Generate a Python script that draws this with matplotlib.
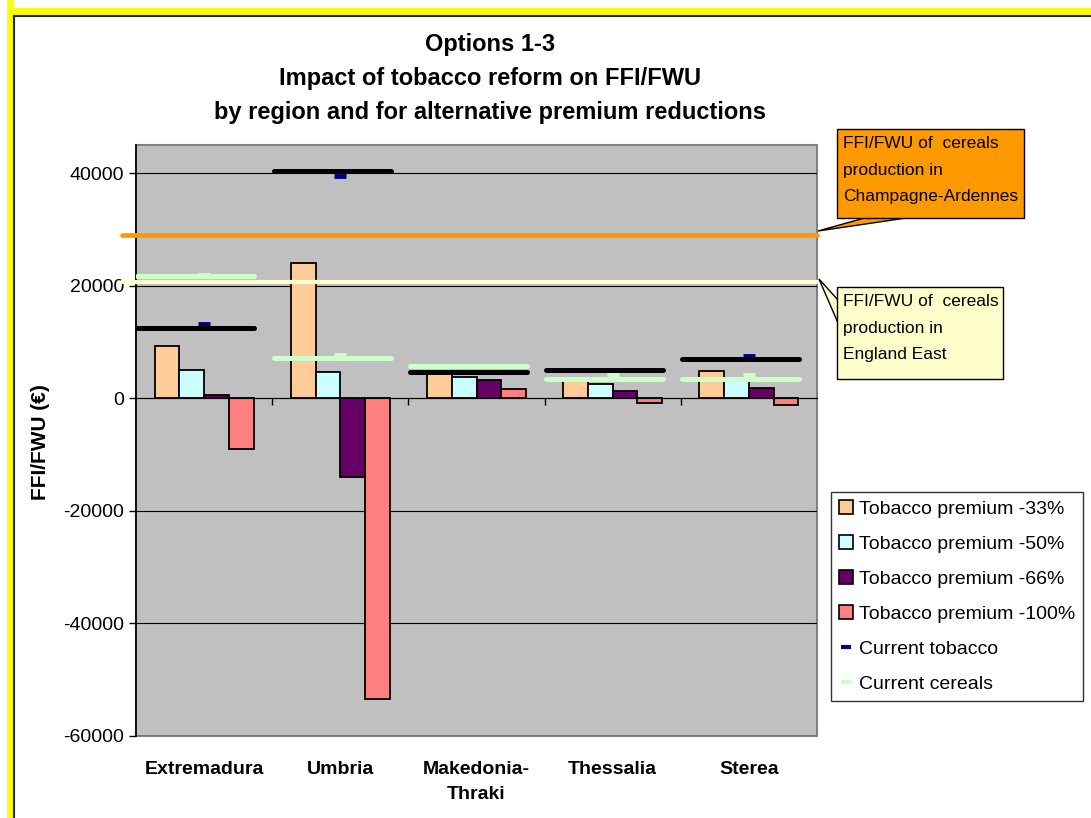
import matplotlib
matplotlib.use('Agg')
import matplotlib.pyplot as plt
import numpy as np
from matplotlib.patches import Rectangle, Polygon, Patch
from matplotlib.lines import Line2D

plt.rcParams['font.family'] = ['Liberation Sans', 'DejaVu Sans']
plt.rcParams['axes.unicode_minus'] = False

regions = ['Extremadura', 'Umbria', 'Makedonia-\nThraki', 'Thessalia', 'Sterea']
series_names = ['Tobacco premium -33%', 'Tobacco premium -50%',
                'Tobacco premium -66%', 'Tobacco premium -100%']
premium_33 = [9300, 24100, 4500, 3400, 4800]
premium_50 = [5000, 4600, 3800, 2500, 3000]
premium_66 = [500, -14000, 3200, 1300, 1900]
premium_100 = [-9000, -53400, 1600, -900, -1200]

# current income points (markers) and the hand drawn bars over them
current_tobacco = [13200, 39500, 4700, 5000, 7500]
current_cereals = [21900, 7700, 5700, 4100, 4200]
tobacco_level = [12500, 40300, 4650, 5000, 6900]
cereals_level = [21700, 7100, 5700, 3400, 3400]

champagne_ffi = 29000
england_east_ffi = 20700

bar_colors = ['#FFCC99', '#CCFFFF', '#660066', '#FF8080']

W, H = 1091, 818
fig = plt.figure(figsize=(W / 100, H / 100), dpi=100)


def px(x, y):
    return (x / W, 1 - y / H)


# yellow frame (cut off at right and bottom)
fig.patches.append(Rectangle(px(7, 15), 1, 7 / H, transform=fig.transFigure,
                             facecolor='#FFFF00', edgecolor='none'))
fig.patches.append(Rectangle(px(7, 818), 6.5 / W, 1, transform=fig.transFigure,
                             facecolor='#FFFF00', edgecolor='none'))
fig.add_artist(Line2D([14 / W, 1], [1 - 15.5 / H] * 2, transform=fig.transFigure,
                      color='#202020', lw=1.5))
fig.add_artist(Line2D([14 / W] * 2, [0, 1 - 15.5 / H], transform=fig.transFigure,
                      color='#202020', lw=1.5))

ax = fig.add_axes([136 / W, 1 - 736 / H, 681 / W, (736 - 145) / H])
ax.set_facecolor('#C0C0C0')

x = np.arange(len(regions))
w = 1 / 5.5
for i, vals in enumerate([premium_33, premium_50, premium_66, premium_100]):
    ax.bar(x + (i - 1.5) * w, vals, width=w, color=bar_colors[i],
           edgecolor='black', linewidth=1.3, zorder=3)

ax.set_xlim(-0.5, 4.5)
ax.set_ylim(-60000, 45000)
ax.set_yticks(np.arange(-60000, 40001, 20000))
ax.tick_params(axis='y', labelsize=14, length=5, width=1, direction='out')
ax.grid(axis='y', color='black', linewidth=0.8, zorder=1)
ax.set_axisbelow(True)

# category axis crossing at zero
ax.spines['bottom'].set_position(('data', 0))
ax.spines['bottom'].set_zorder(4)
ax.spines['top'].set_visible(False)
ax.spines['right'].set_visible(False)
ax.spines['left'].set_linewidth(1.2)
ax.set_xticks(np.arange(0.5, 4.0, 1.0))
ax.set_xticklabels([])
ax.tick_params(axis='x', length=5, width=1, direction='out')
ax.add_patch(Rectangle((0, 0), 1, 1, transform=ax.transAxes, fill=False,
                       edgecolor='#808080', linewidth=1.5, zorder=0.5, clip_on=False))

for xi, name in zip(x, regions):
    ax.text(xi, -0.043, name, transform=ax.get_xaxis_transform(), ha='center',
            va='top', fontsize=14, fontweight='bold', linespacing=1.55)

# markers for current incomes
ax.plot(x, current_tobacco, linestyle='none', marker='_', markersize=8,
        markeredgewidth=3.5, color='#000080', zorder=5)
ax.plot(x, current_cereals, linestyle='none', marker='_', markersize=8,
        markeredgewidth=3.5, color='#CCFFCC', zorder=5)

# drawn bars
for xi, t, c in zip(x, tobacco_level, cereals_level):
    ax.plot([xi - 0.49, xi + 0.37], [c, c], color='#CCFFCC', lw=3.6,
            solid_capstyle='round', zorder=6)
    ax.plot([xi - 0.49, xi + 0.37], [t, t], color='black', lw=3.6,
            solid_capstyle='round', zorder=6)

ax.plot([-0.6, 4.5], [champagne_ffi] * 2, color='#FF9900', lw=3.4,
        solid_capstyle='round', clip_on=False, zorder=7)
ax.plot([-0.6, 4.5], [england_east_ffi] * 2, color='#FFFFCC', lw=3.0,
        solid_capstyle='round', clip_on=False, zorder=7)

# titles
for ty, line in zip([44, 78, 112], ['Options 1-3',
                                    'Impact of tobacco reform on FFI/FWU',
                                    'by region and for alternative premium reductions']):
    fig.text(490 / W, 1 - ty / H, line, ha='center', va='center',
             fontsize=17, fontweight='bold')

fig.text(40 / W, 1 - 442 / H, 'FFI/FWU (€)', rotation=90, ha='center',
         va='center', fontsize=15, fontweight='bold')


# callouts
def callout(x0, y0, x1, y1, wedge, color, lines, ys):
    fig.patches.append(Polygon([px(*p) for p in wedge], closed=True,
                               transform=fig.transFigure, facecolor=color,
                               edgecolor='black', linewidth=1.0, zorder=8))
    fig.patches.append(Rectangle(px(x0, y1), (x1 - x0) / W, (y1 - y0) / H,
                                 transform=fig.transFigure, facecolor=color,
                                 edgecolor='black', linewidth=1.0, zorder=9))
    for line, ly in zip(lines, ys):
        fig.text(843 / W, 1 - ly / H, line, ha='left', va='center',
                 fontsize=12.5, zorder=10)


callout(837, 129, 1024, 218, [(868, 217), (818, 231), (913, 217)], '#FF9900',
        ['FFI/FWU of  cereals', 'production in', 'Champagne-Ardennes'], [143, 170, 197])
callout(837, 287, 1003, 379, [(838, 300), (819, 279), (838, 323)], '#FFFFCC',
        ['FFI/FWU of  cereals', 'production in', 'England East'], [301, 328, 354])

handles = [Patch(facecolor=c, edgecolor='black', linewidth=1.2) for c in bar_colors]
handles += [Line2D([], [], linestyle='none', marker='_', markersize=7,
                   markeredgewidth=3, color='#000080'),
            Line2D([], [], linestyle='none', marker='_', markersize=7,
                   markeredgewidth=3, color='#CCFFCC')]
labels = series_names + ['Current tobacco', 'Current cereals']
leg = fig.legend(handles, labels, loc='upper left', bbox_to_anchor=px(831, 492),
                 fontsize=14, frameon=True, fancybox=False, edgecolor='black',
                 handlelength=0.75, handleheight=0.75, handletextpad=0.3,
                 labelspacing=0.88, borderpad=0.4, borderaxespad=0)
leg.get_frame().set_linewidth(1.0)

fig.savefig('out.png', dpi=100)
